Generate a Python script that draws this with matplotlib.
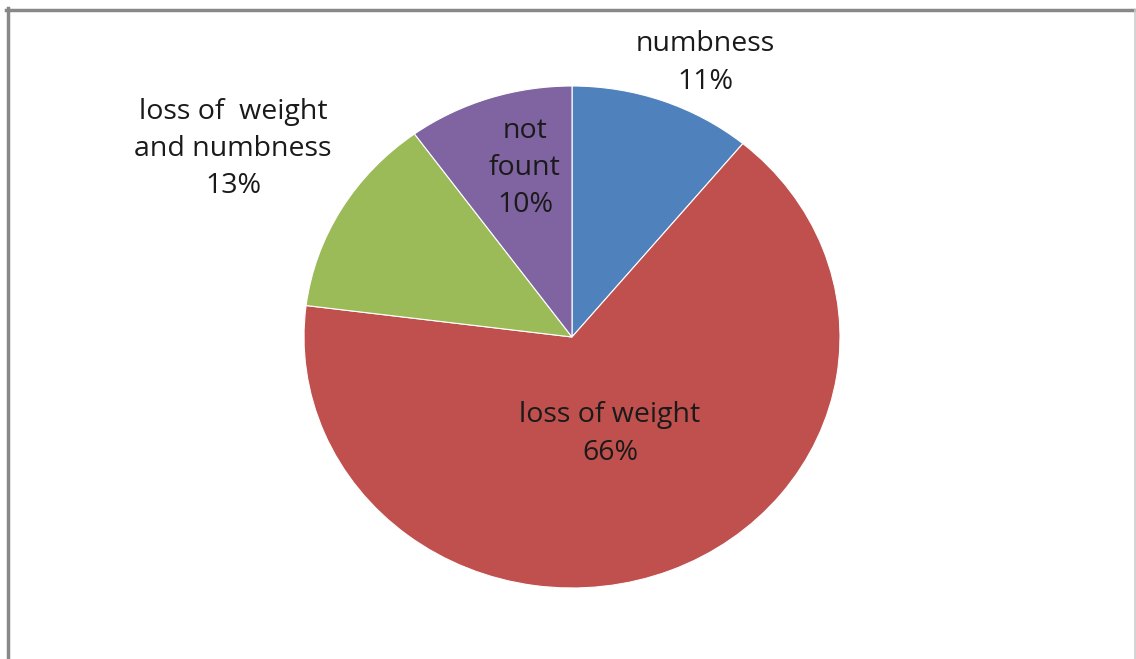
import matplotlib.pyplot as plt
from matplotlib.lines import Line2D

# slice data, clockwise from 12 o'clock
labels = ['numbness', 'loss of weight', 'loss of  weight\nand numbness', 'not\nfount']
shares = [11, 66, 13, 10]
colors = ['#4F81BD', '#C0504D', '#9BBB59', '#8064A2']

W, H = 1136, 659
fig = plt.figure(figsize=(W / 100, H / 100), dpi=100)

# pie occupies pixel box x 304..840, y 86..588 (slightly squashed like the original)
x0, x1, y0, y1 = 304, 840, 86, 588
ax = fig.add_axes([x0 / W, 1 - y1 / H, (x1 - x0) / W, (y1 - y0) / H])
ax.pie(shares, colors=colors, startangle=90, counterclock=False,
       wedgeprops=dict(edgecolor='white', linewidth=0.8))
ax.set_aspect('auto')
ax.set_xlim(-1, 1)
ax.set_ylim(-1, 1)
ax.axis('off')

# label positions in pixels (centre of each text block)
label_pos = [(705, 63), (610, 434), (233, 149), (525, 168)]
for lab, val, (px, py) in zip(labels, shares, label_pos):
    fig.text(px / W, 1 - py / H, f'{lab}\n{val}%', ha='center', va='center',
             fontsize=20.5, color='#1a1a1a', linespacing=1.45,
             family=['Open Sans', 'DejaVu Sans'])

# chart frame
fig.add_artist(Line2D([7.5 / W, 7.5 / W], [0, 1 - 8 / H], color='#888888', lw=2.5,
                      transform=fig.transFigure))
fig.add_artist(Line2D([6 / W, 1135 / W], [1 - 9.5 / H, 1 - 9.5 / H], color='#888888', lw=2.5,
                      transform=fig.transFigure))
fig.add_artist(Line2D([1134.5 / W, 1134.5 / W], [0, 1 - 10 / H], color='#cccccc', lw=1.2,
                      transform=fig.transFigure))

fig.savefig('out.png', dpi=100)
